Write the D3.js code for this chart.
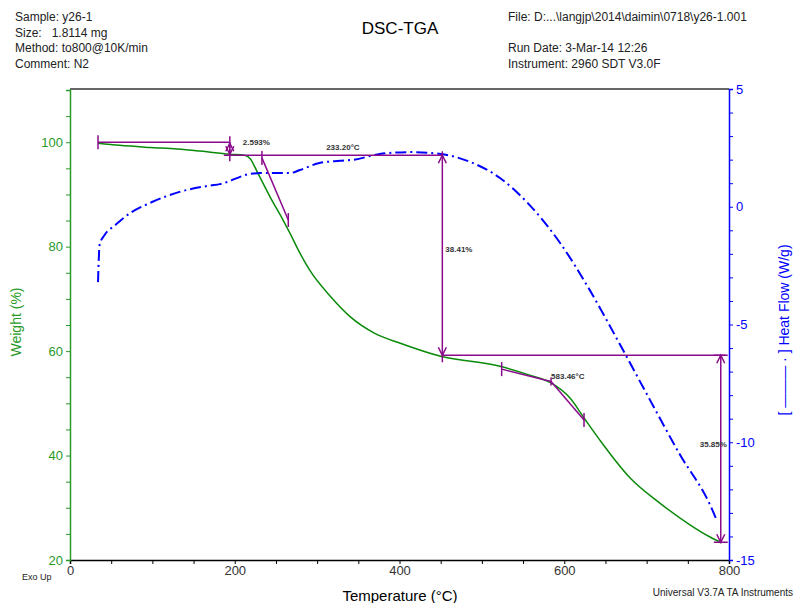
<!DOCTYPE html>
<html><head><meta charset="utf-8">
<script src="https://cdn.jsdelivr.net/npm/d3@7"></script>
<style>body{margin:0;background:#fff}svg{display:block;font-family:"Liberation Sans",Arial,sans-serif}</style>
</head><body><svg id="c" width="795" height="603"></svg>
<script>
// ---- data ----
const weightT = [34,60,97,130,158,194,212,218.5,228,243,258.6,267,279,291,316,340,370,401,450,522,558,584,607,624,643,680,716,753,777,791];
const weightW = [99.8,99.4,99.0,98.7,98.3,97.7,97.5,96.9,94.1,89.5,85.1,82.6,78.8,75.5,70.5,66.6,63.4,61.5,59.0,57.1,55.4,53.9,51.0,47.2,43.0,35.7,30.9,26.7,24.4,23.3];
const heatT = [34,36,42,55,73,97,133,170,182,218,231,267,279,303,328,345,376,413,450,486,522,558,595,631,668,704,740,777,785];
const heatH = [-3.2,-1.6,-1.2,-0.78,-0.27,0.16,0.63,0.9,0.96,1.39,1.43,1.43,1.56,1.86,1.95,2.0,2.24,2.32,2.24,1.9,1.22,0.07,-1.54,-3.54,-5.87,-8.2,-10.5,-12.66,-13.3];
const xTicks = [0,200,400,600,800];
const wTicks = [20,40,60,80,100];
const hTicks = [-15,-10,-5,0,5];
const headerLeft = ["Sample: y26-1","Size:   1.8114 mg","Method: to800@10K/min","Comment: N2"];
const headerRight = ["File: D:...\\langjp\\2014\\daimin\\0718\\y26-1.001","","Run Date: 3-Mar-14 12:26","Instrument: 2960 SDT V3.0F"];
// annotation values (temperature, weight)
const stepLevels = [100.0, 97.5, 59.2, 23.4];
const stepTemps = [34, 194, 452, 790];
const stepLabels = ["2.593%","38.41%","35.85%"];
const onset1 = [[233,97.0],[265,85.1]];
const onset2 = [[524,56.55],[584,54.2],[624,46.8]];
const onsetLabels = ["233.20°C","583.46°C"];

const svg = d3.select("#c");
const L=70,R=729,T=89,B=560;
const x = d3.scaleLinear([0,800],[L,R]);
const yW = d3.scaleLinear([20,110],[B,T+1]);
const yH = d3.scaleLinear([-15,5],[B,T]);
const green="#2a9a2a", blue="#0000ff", purple="#8b0a8b";

// header
svg.append("g").selectAll("text").data(headerLeft).join("text")
  .attr("x",15).attr("y",(d,i)=>21+i*15.5).attr("font-size",12).attr("fill","#222").attr("xml:space","preserve").text(d=>d);
svg.append("g").selectAll("text").data(headerRight).join("text")
  .attr("x",508).attr("y",(d,i)=>21+i*15.5).attr("font-size",12).attr("fill","#222").text(d=>d);
svg.append("text").attr("x",400).attr("y",34).attr("text-anchor","middle").attr("font-size",17).attr("fill","#000").text("DSC-TGA");

// top border
svg.append("line").attr("x1",L).attr("x2",R).attr("y1",T).attr("y2",T).attr("stroke","#333").attr("stroke-width",1.5);

// axes
const gx = svg.append("g").attr("transform",`translate(0,${B})`)
  .call(d3.axisBottom(x).tickValues(d3.range(0,801,50)).tickSize(4).tickFormat(d=>xTicks.includes(d)?d:""));
gx.select(".domain").attr("stroke","#000").attr("stroke-width",1.5);
gx.selectAll("line").attr("stroke","#000");
gx.selectAll("text").attr("font-size",13).attr("fill","#333").attr("dy","0.6em");

const gl = svg.append("g").attr("transform",`translate(${L},0)`)
  .call(d3.axisLeft(yW).tickValues(d3.range(20,111,5)).tickSize(4).tickFormat(d=>wTicks.includes(d)?d:""));
gl.select(".domain").attr("stroke",green).attr("stroke-width",1.5);
gl.selectAll("line").attr("stroke",green);
gl.selectAll("text").attr("font-size",13).attr("fill",green);

const gr = svg.append("g").attr("transform",`translate(${R},0)`)
  .call(d3.axisRight(yH).tickValues(d3.range(-15,5.1,1)).tickSize(4).tickFormat(d=>hTicks.includes(d)?d:""));
gr.select(".domain").attr("stroke",blue).attr("stroke-width",1.5);
gr.selectAll("line").attr("stroke",blue);
gr.selectAll("text").attr("font-size",13).attr("fill",blue);

// axis titles
svg.append("text").attr("transform","translate(21,322) rotate(-90)").attr("text-anchor","middle")
  .attr("font-size",14).attr("fill",green).text("Weight (%)");
svg.append("text").attr("transform","translate(789,330) rotate(-90)").attr("text-anchor","middle")
  .attr("font-size",14).attr("fill",blue).attr("xml:space","preserve").text("[ ——— · ] Heat Flow (W/g)");
svg.append("text").attr("x",400).attr("y",601).attr("text-anchor","middle").attr("font-size",15).attr("fill","#000").text("Temperature (°C)");
svg.append("text").attr("x",22).attr("y",580).attr("font-size",9).attr("fill","#222").text("Exo Up");
svg.append("text").attr("x",793).attr("y",596).attr("text-anchor","end").attr("font-size",10).attr("fill","#222").text("Universal V3.7A TA Instruments");

// curves
const wData = weightT.map((t,i)=>[t,weightW[i]]);
const hData = heatT.map((t,i)=>[t,heatH[i]]);
svg.append("path").datum(wData).attr("fill","none").attr("stroke","#0a8a0a").attr("stroke-width",1.5)
  .attr("d",d3.line().x(d=>x(d[0])).y(d=>yW(d[1])).curve(d3.curveMonotoneX));
svg.append("path").datum(hData).attr("fill","none").attr("stroke",blue).attr("stroke-width",2)
  .attr("stroke-dasharray","11,4,2,4")
  .attr("d",d3.line().x(d=>x(d[0])).y(d=>yH(d[1])).curve(d3.curveMonotoneX));

// annotations
const an = svg.append("g").attr("stroke",purple).attr("stroke-width",1.5).attr("fill","none");
function seg(x1,y1,x2,y2){an.append("line").attr("x1",x1).attr("y1",y1).attr("x2",x2).attr("y2",y2);}
function vbar(px,py,h=7){seg(px,py-h,px,py+h);}
function hbar(px,py,w=7){seg(px-w,py,px+w,py);}
function arrow(px,py,dir){ // dir -1 up, +1 down
  an.append("path").attr("d",`M${px-4},${py-dir*8}L${px},${py}L${px+4},${py-dir*8}`);
}
const s0=x(stepTemps[0]), s1=x(stepTemps[1]), s2=x(stepTemps[2]), s3=x(stepTemps[3]);
const l0=yW(stepLevels[0]), l1=yW(stepLevels[1]), l2=yW(stepLevels[2]), l3=yW(stepLevels[3]);
seg(s0,l0,s1,l0); vbar(s0,l0); vbar(s1,l0,6);
seg(s1,l0,s1,l1); arrow(s1,l0+1,-1); arrow(s1,l1-1,1); vbar(s1,l1,6);
seg(s1-6,l1,s2,l1); seg(s2,l1-4,s2,l2+7); arrow(s2,l1,-1); arrow(s2,l2,1);
seg(s2,l2,s3+5,l2); seg(s3,l2,s3,l3); arrow(s3,l2,-1); arrow(s3,l3,1); hbar(s3,l2); hbar(s3,l3);
const o1=onset1.map(d=>[x(d[0]),yW(d[1])]);
seg(o1[0][0],o1[0][1],o1[1][0],o1[1][1]); vbar(o1[0][0],o1[0][1]); vbar(o1[1][0],o1[1][1]);
const o2=onset2.map(d=>[x(d[0]),yW(d[1])]);
seg(o2[0][0],o2[0][1],o2[1][0],o2[1][1]); seg(o2[1][0],o2[1][1],o2[2][0],o2[2][1]);
vbar(o2[0][0],o2[0][1]); vbar(o2[1][0],o2[1][1],4); vbar(o2[2][0],o2[2][1]);

const lab = svg.append("g").attr("font-size",8).attr("font-weight","bold").attr("fill","#333");
lab.append("text").attr("x",s1+13).attr("y",l0+3).text(stepLabels[0]);
lab.append("text").attr("x",s2+3).attr("y",yW(79)).text(stepLabels[1]);
lab.append("text").attr("x",s3-21).attr("y",yW(41.7)).text(stepLabels[2]);
lab.append("text").attr("x",x(311)).attr("y",l1-5).text(onsetLabels[0]);
lab.append("text").attr("x",o2[1][0]).attr("y",o2[1][1]-2).text(onsetLabels[1]);
</script></body></html>
